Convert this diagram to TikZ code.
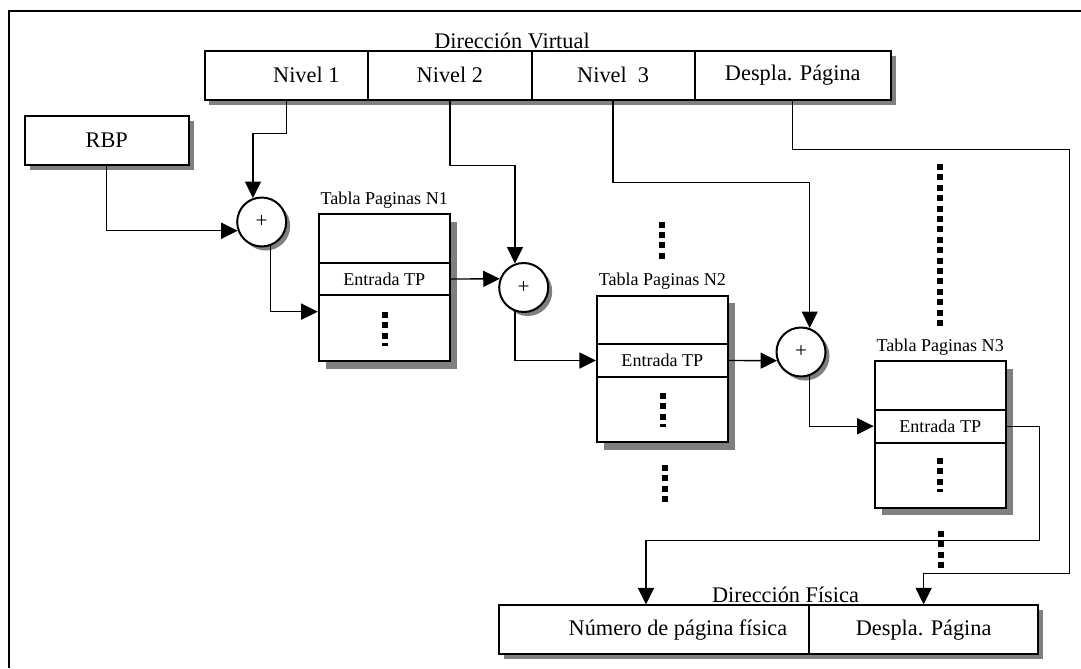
\documentclass[tikz,border=0pt]{standalone}
\usepackage{fontspec}
\setmainfont{Liberation Serif}
\usepackage{tikz}
\usetikzlibrary{arrows.meta,shadows,calc}

\newlength{\pxu}
\setlength{\pxu}{0.4484pt}
\newcommand{\tpfont}{\fontsize{8.1pt}{9.7pt}\selectfont}

\begin{document}
\begin{tikzpicture}[x=0.4484pt, y=-0.4484pt,
  every node/.style={inner sep=0pt},
  box/.style={draw, rectangle, line width=0.9pt, fill=white, minimum height=48.8*\pxu,
    drop shadow={shadow xshift=2.24pt, shadow yshift=-2.24pt, fill=gray, opacity=1}},
  sum/.style={draw, circle, line width=0.9pt, fill=white, minimum size=49*\pxu, font=\fontsize{9.5pt}{11pt}\selectfont,
    drop shadow={shadow xshift=1.8pt, shadow yshift=-1.8pt, fill=gray, opacity=1}},
  tabla/.style={draw, rectangle, line width=0.9pt, fill=white, minimum width=131*\pxu, minimum height=146.7*\pxu,
    drop shadow={shadow xshift=3.36pt, shadow yshift=-3.36pt, fill=gray, opacity=1}},
  entrada/.style={draw, rectangle, line width=0.9pt, minimum width=131*\pxu, minimum height=32.7*\pxu, font=\tpfont},
  titulo/.style={font=\tpfont, inner sep=0pt, label distance=2pt},
  arr/.style={-{Triangle[length=7.4pt,width=7.2pt]}, line width=0.6pt},
  dots/.style={line width=2.7pt, dash pattern=on 2.7pt off 1.96pt}]
\useasboundingbox (0,0) rectangle (1081,668);

% marco
\draw[line width=0.9pt] (8.6,668) -- (8.6,10.7) -- (1081,10.7);

% direccion virtual
\node[box, minimum width=163.5*\pxu] (v1) at (286.25,75.35) {\hspace*{18pt}Nivel 1};
\node[box, minimum width=163.7*\pxu] (v2) at (449.85,75.35) {Nivel 2};
\node[box, minimum width=162.9*\pxu] (v3) at (613.15,75.35) {Nivel\ \ 3};
\node[box, minimum width=196.4*\pxu] (v4) at (792.8,75.35) {Despla. Página};
\node[anchor=base] (dvirt) at (512,48.3) {Dirección Virtual};

\node[box, minimum width=163.9*\pxu] (rbp) at (106.75,140.65) {RBP};

% sumadores
\node[sum] (c1) at (261.7,222) {+};
\node[sum] (c2) at (523.7,287.5) {+};
\node[sum] (c3) at (801,352) {+};

% tablas de paginas
\node[tabla, label={[titulo]above:Tabla Paginas N1}] (t1) at (384.25,287.65) {};
\node[entrada] (e1) at (384.25,279) {Entrada TP};
\node[tabla, label={[titulo]above:Tabla Paginas N2}] (t2) at (662.35,369) {};
\node[entrada] (e2) at (662.35,360.5) {Entrada TP};
\node[tabla, label={[titulo]above:Tabla Paginas N3}] (t3) at (940.2,434.35) {};
\node[entrada] (e3) at (940.2,426.2) {Entrada TP};

% direccion fisica
\node[box, minimum width=310.6*\pxu] (p1) at (654,629.8) {\hspace*{21.5pt}Número de página física};
\node[box, minimum width=228.7*\pxu] (p2) at (923.65,629.8) {Despla. Página};
\node[anchor=base] (dfis) at (785.5,602.7) {Dirección Física};

% puntos suspensivos
\draw[dots] (385,312) -- (385,345.5);
\draw[dots] (663.3,393) -- (663.3,426.5);
\draw[dots] (940,458) -- (940,491.5);
\draw[dots] (662,221.5) -- (662,258.5);
\draw[dots] (665,465) -- (665,502);
\draw[dots] (940,164) -- (940,326.5);
\draw[dots] (941,531) -- (941,568);

% conexiones
\draw[arr] (v1.south) -- ++(0,32.6) -| (c1.110);
\draw[arr] (rbp.south) |- (c1.200);
\draw[arr] (c1.-70) |- ($(t1.west)+(0,24)$);
\draw[arr] (e1.east) -- (c2.160);
\draw[arr] (v2.south) -- ++(0,64.6) -| (c2.110);
\draw[arr] (c2.-110) |- (e2.west);
\draw[arr] (e2.east) -- (c3.200);
\draw[arr] (v3.south) -- ++(0,82) -| (c3.70);
\draw[arr] (c3.-70) |- (e3.west);
\draw[arr] (e3.east) -- ++(32.6,0) -- ++(0,114) -| ($(p1.north)+(-8,0)$);
\draw[arr] (v4.south) -- ++(0,49) -- ++(276.8,0) -- ++(0,424) -| (p2.north);
\end{tikzpicture}
\end{document}
